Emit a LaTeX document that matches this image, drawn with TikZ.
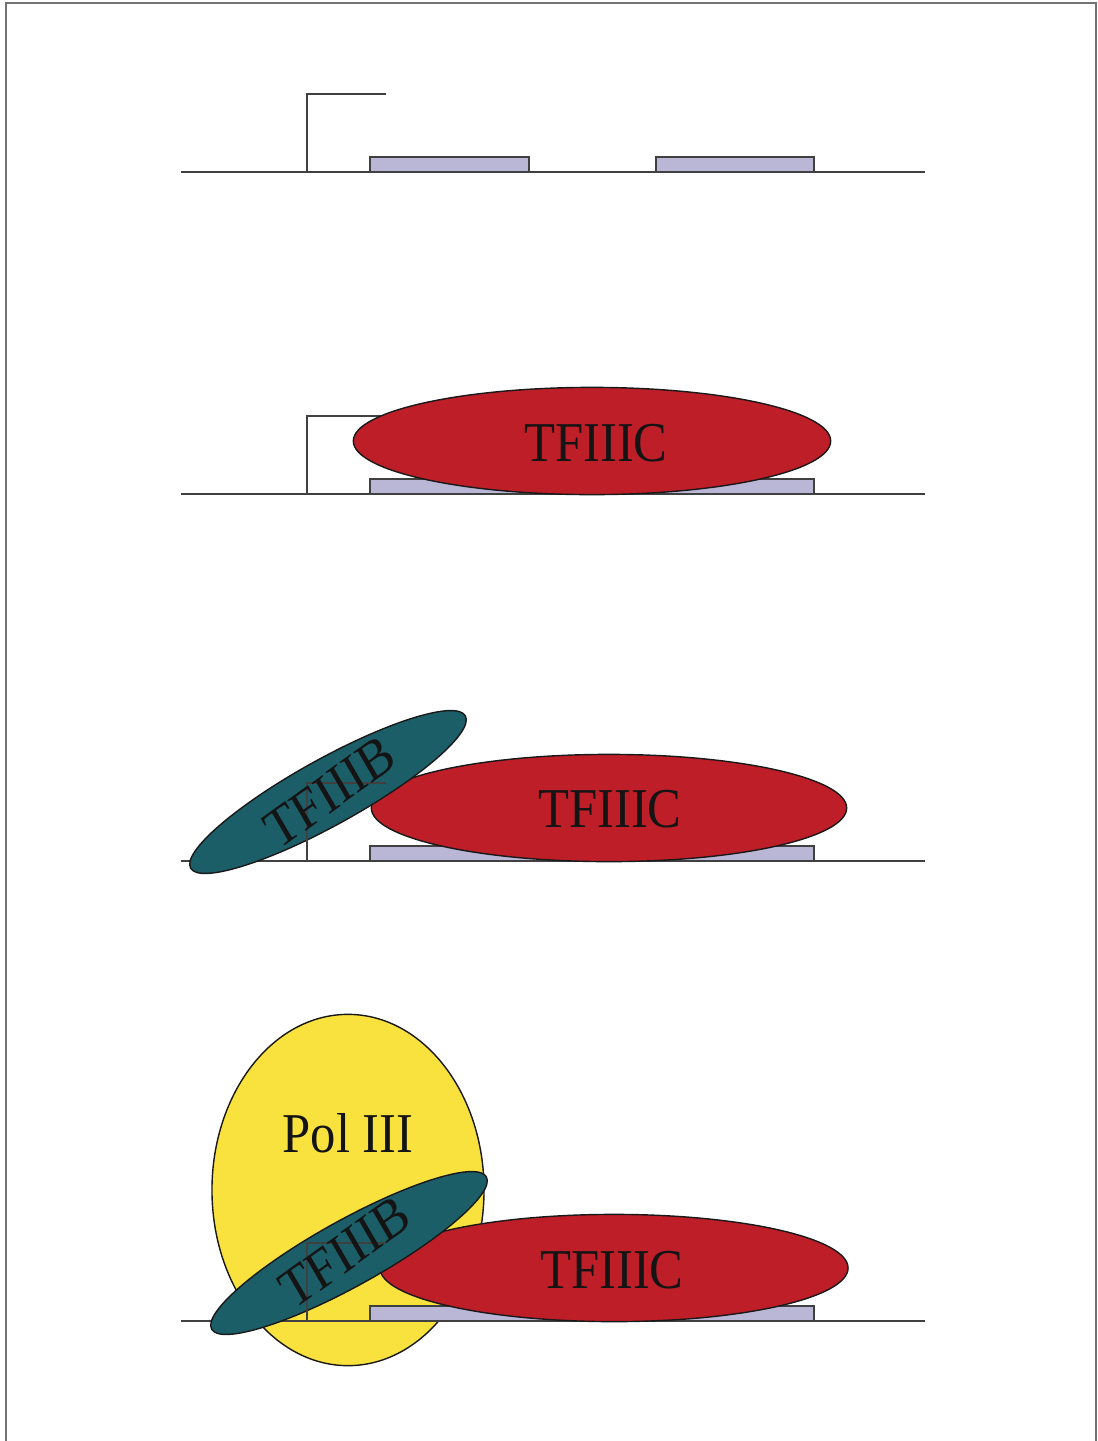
\documentclass[tikz,border=0pt]{standalone}
\usepackage{fontspec}
\setmainfont{Liberation Serif}
\usetikzlibrary{shapes.geometric}
\definecolor{tfcred}{RGB}{190,30,40}
\definecolor{tfbteal}{RGB}{28,94,104}
\definecolor{polyellow}{RGB}{250,226,62}
\definecolor{boxlilac}{RGB}{186,182,214}
\tikzset{
  dna/.style={draw=black!75, line width=0.9pt},
  boxel/.style={draw=black!75, fill=boxlilac, line width=0.9pt},
  blob/.style={ellipse, draw=black!90, line width=1pt, inner sep=0pt, outer sep=0pt},
  tfc/.style={blob, fill=tfcred, minimum height=2.68cm},
  tfb/.style={blob, fill=tfbteal, minimum width=7.85cm, minimum height=1.65cm, rotate=29},
  pol/.style={blob, fill=polyellow, minimum width=6.8cm, minimum height=8.78cm},
  lbl/.style={font=\fontsize{40}{44}\selectfont, xscale=0.9, text=black!92, inner sep=0pt}
}

\begin{document}
\begin{tikzpicture}[x=0.025cm, y=-0.025cm]
    \useasboundingbox (0,0) rectangle (1098,1441);
    \draw[draw=black!55, line width=1.4pt] (6,3) rectangle (1096,1460);
    \node[pol] (pol4) at (348,1190) {};
    \draw[dna] (181,172) -- (925,172);
    \draw[boxel] (370,157) rectangle (529,172);
    \draw[boxel] (656,157) rectangle (814,172);
    \foreach \y in {494,861,1321} {
      \draw[dna] (181,\y) -- (925,\y);
      \draw[boxel] (370,\y-15) rectangle (814,\y);
    }
    \foreach \y/\n in {172/1,494/2,861/3,1321/4}
      \coordinate (tss\n) at (307,\y);
    \draw[dna] (tss1) -- ++(0,-78) -- ++(79,0);
    \draw[dna] (tss2) -- ++(0,-78) -- ++(79,0);
    \node[tfc, minimum width=11.93cm] (tfc2) at (592,441) {};
    \node[tfc, minimum width=11.88cm] (tfc3) at (609,808) {};
    \node[tfc, minimum width=11.7cm] (tfc4) at (614,1268) {};
    \node[tfb] (tfb3) at (328,792) {};
    \node[tfb] (tfb4) at (349,1253) {};
    \draw[dna] (tss3) -- ++(0,-78) -- ++(79,0);
    \draw[dna] (tss4) -- ++(0,-78) -- ++(79,0);
    \node[lbl] at (596,443) {TFIIIC};
    \node[lbl] at (610,809) {TFIIIC};
    \node[lbl] at (612,1270) {TFIIIC};
    \node[lbl, rotate=33] at (330,792) {TFIIIB};
    \node[lbl, rotate=33] at (345,1252) {TFIIIB};
    \node[lbl] at (348,1133) {Pol III};
\end{tikzpicture}
\end{document}
